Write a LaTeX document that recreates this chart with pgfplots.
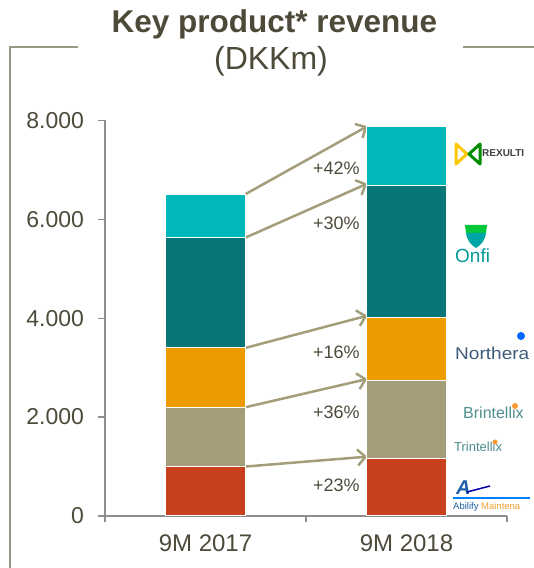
\documentclass[border=0pt]{standalone}
\usepackage{fontspec}
\setmainfont{Liberation Sans}
\usepackage{pgfplots}
\pgfplotsset{compat=1.18}
\usepackage{pgfplotstable}
\usetikzlibrary{arrows.meta}

\definecolor{txt}{HTML}{4D4A3A}
\definecolor{cRed}{HTML}{C9401F}
\definecolor{cTan}{HTML}{A59E7B}
\definecolor{cOra}{HTML}{EE9B00}
\definecolor{cTeal}{HTML}{087676}
\definecolor{cCyan}{HTML}{00B8BA}
\definecolor{arrc}{HTML}{A39D79}
\definecolor{framec}{HTML}{9B9882}
\definecolor{axgray}{HTML}{8E8E8E}

% revenue per product, DKKm (stack: Abilify M., Brintellix, Northera, Onfi, Rexulti)
\pgfplotstableread{
x red tan orange teal cyan
0 1000 1200 1200 2230 880
1 1160 1570 1280 2670 1190
}\revenue

\tikzset{growth/.style={draw=arrc, line width=2.5pt, -{Straight Barb[length=8pt,width=16pt]}},
  pct/.style={anchor=east, font=\fontsize{18}{18}\selectfont, text=txt}}

\begin{document}
\begin{tikzpicture}
\path[use as bounding box] (-105pt,-52pt) rectangle (429pt,516pt);

\begin{axis}[
  at={(0pt,0pt)}, anchor=south west,
  scale only axis, width=402pt, height=395.7pt,
  xmin=-0.5, xmax=1.5, ymin=0, ymax=8000,
  ybar stacked, bar width=0.4,
  axis lines=left, axis line style={-, axgray, line width=1.2pt},
  tick style={axgray, line width=1.2pt},
  tick align=outside, major tick length=6.5pt,
  xtick={-0.5,0.5,1.5}, xticklabels={},
  extra x ticks={0,1}, extra x tick labels={9M 2017,9M 2018},
  extra x tick style={major tick length=0pt,
    tick label style={font=\fontsize{24}{24}\selectfont, text=txt, yshift=-15pt}},
  ytick={0,2000,4000,6000,8000},
  yticklabels={0,2.000,4.000,6.000,8.000},
  y tick label style={font=\fontsize{23}{23}\selectfont, text=txt, xshift=-11pt},
  clip=false,
]
\addplot[fill=cRed,  draw=white, line width=1pt] table[x=x,y=red]{\revenue};
\addplot[fill=cTan,  draw=white, line width=1pt] table[x=x,y=tan]{\revenue};
\addplot[fill=cOra,  draw=white, line width=1pt] table[x=x,y=orange]{\revenue};
\addplot[fill=cTeal, draw=white, line width=1pt] table[x=x,y=teal]{\revenue};
\addplot[fill=cCyan, draw=white, line width=1pt] table[x=x,y=cyan]{\revenue};

\draw[growth] (axis cs:0.2,1000) -- (axis cs:0.805,1200);
\draw[growth] (axis cs:0.2,2200) -- (axis cs:0.805,2770);
\draw[growth] (axis cs:0.2,3400) -- (axis cs:0.805,4050);
\draw[growth] (axis cs:0.2,5630) -- (axis cs:0.805,6720);
\draw[growth] (axis cs:0.2,6510) -- (axis cs:0.805,7880);

\node[pct] at (axis cs:0.785,7036) {+42\%};
\node[pct] at (axis cs:0.785,5924) {+30\%};
\node[pct] at (axis cs:0.785,3316) {+16\%};
\node[pct] at (axis cs:0.785,2103) {+36\%};
\node[pct] at (axis cs:0.785,627) {+23\%};
\end{axis}

% title and frame
\node[anchor=base, font=\bfseries\fontsize{31.5}{31.5}\selectfont, text=txt] at (169.5pt,483pt) {Key product* revenue};
\node[anchor=base, font=\fontsize{32}{32}\selectfont, text=txt] at (166pt,446pt) {(DKKm)};
\draw[framec, line width=1.3pt] (-27pt,469pt) -- (-95pt,469pt) -- (-95pt,-60pt);
\draw[framec, line width=1.3pt] (358pt,469pt) -- (440pt,469pt);

% product logos
\draw[yellow!60!orange, line width=3pt, line join=round] (362pt,362pt) -- (351pt,372pt) -- (351pt,352pt) -- cycle;
\draw[green!55!black, line width=3pt, line join=round] (364pt,362pt) -- (375pt,372pt) -- (375pt,352pt) -- cycle;
\node[anchor=west, font=\bfseries\fontsize{10}{10}\selectfont, text=black!75, inner sep=0pt] at (377pt,363pt) {REXULTI};

\fill[green!55!teal] (360pt,291pt) -- (382pt,291pt) -- (381pt,283pt) -- (361pt,283pt) -- cycle;
\fill[teal!70!cyan] (361pt,283pt) -- (381pt,283pt) .. controls (380pt,274pt) and (374pt,270pt) .. (371pt,268pt) .. controls (368pt,270pt) and (362pt,274pt) .. cycle;
\node[anchor=base west, font=\fontsize{19}{19}\selectfont, text=teal!80!cyan, inner sep=0pt] at (350pt,253pt) {Onfi};

\fill[blue!60!cyan] (416pt,180pt) circle (4pt);
\node[anchor=base west, font=\fontsize{17}{17}\selectfont, text={rgb,255:red,62;green,92;blue,120}, inner sep=0pt] at (350pt,156pt) {\scalebox{1.12}[1]{Northera}};

\node[anchor=base west, font=\fontsize{16}{16}\selectfont, text={rgb,255:red,78;green,142;blue,140}, inner sep=0pt] at (358pt,97pt) {Brintellix};
\fill[orange!80] (410pt,110pt) circle (3pt);
\node[anchor=base west, font=\fontsize{13}{13}\selectfont, text={rgb,255:red,78;green,142;blue,140}, inner sep=0pt] at (349pt,64pt) {Trintellix};
\fill[orange!80] (390pt,74pt) circle (2.5pt);

\node[anchor=base west, font=\bfseries\itshape\fontsize{20}{20}\selectfont, text={rgb,255:red,31;green,95;blue,168}, inner sep=0pt] at (351pt,21pt) {A};
\draw[blue!50!cyan, line width=1.2pt] (348pt,18pt) -- (425pt,18pt);
\draw[blue!70!black, line width=1.5pt] (362pt,24pt) -- (385pt,30pt);
\node[anchor=base west, font=\fontsize{9.5}{9.5}\selectfont, inner sep=0pt] at (348pt,6pt) {\textcolor[RGB]{31,95,168}{Abilify} \textcolor[RGB]{240,160,48}{Maintena}};
\end{tikzpicture}
\end{document}
